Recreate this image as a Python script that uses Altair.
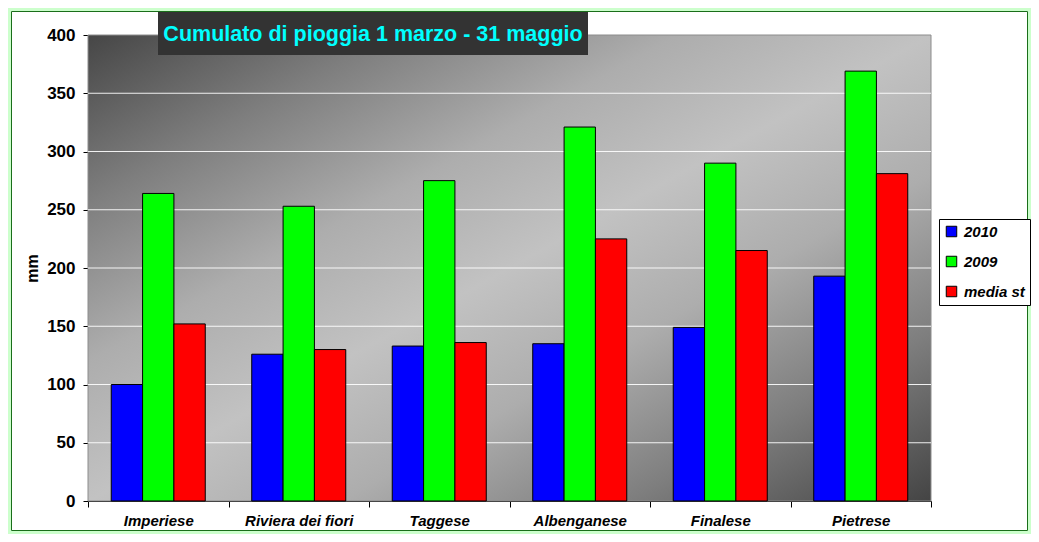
import altair as alt
import pandas as pd

categories = ["Imperiese", "Riviera dei fiori", "Taggese", "Albenganese", "Finalese", "Pietrese"]
series = ["2010", "2009", "media st"]
v2010 = [100, 126, 133, 135, 149, 193]
v2009 = [264, 253, 275, 321, 290, 369]
vmedia = [152, 130, 136, 225, 215, 281]
colors = ["#0000ff", "#00ff00", "#ff0000"]
y_ticks = [0, 50, 100, 150, 200, 250, 300, 350, 400]
grid_vals = [50, 100, 150, 200, 250, 300, 350]
title_text = "Cumulato di pioggia 1 marzo - 31 maggio"

W, H = 843, 466
PL, PT, PR, PB = 80, 27, 100, 33
FONT = "Liberation Sans"

rows = []
for i, c in enumerate(categories):
    for s, vals in zip(series, [v2010, v2009, vmedia]):
        rows.append({"cat": c, "series": s, "mm": vals[i]})
df = pd.DataFrame(rows)
one = alt.Data(values=[{}])

bg = alt.Chart(one).mark_rect(
    color=alt.Gradient(
        gradient="linear", x1=0, y1=0, x2=1, y2=1,
        stops=[
            alt.GradientStop(offset=0, color="#464646"),
            alt.GradientStop(offset=0.18, color="#7e7e7e"),
            alt.GradientStop(offset=0.35, color="#adadad"),
            alt.GradientStop(offset=0.5, color="#c2c2c2"),
            alt.GradientStop(offset=0.65, color="#adadad"),
            alt.GradientStop(offset=0.82, color="#7e7e7e"),
            alt.GradientStop(offset=1, color="#444444"),
        ],
    ),
    stroke="#8c8c8c", strokeWidth=1,
).encode(x=alt.value(0), x2=alt.value(W), y=alt.value(0), y2=alt.value(H))

grid = alt.Chart(pd.DataFrame({"g": grid_vals})).mark_rule(
    color="#ffffff", strokeWidth=1.2, opacity=0.9
).encode(y=alt.Y("g:Q", scale=alt.Scale(domain=[0, 400])))

bars = alt.Chart(df).mark_bar(stroke="#000000", strokeWidth=1, opacity=1).encode(
    x=alt.X(
        "cat:N", sort=categories, title=None,
        scale=alt.Scale(paddingInner=0, paddingOuter=0),
        axis=alt.Axis(
            tickBand="extent", labelAngle=0, labelFont=FONT, labelFontSize=15,
            labelFontWeight="bold", labelFontStyle="italic", labelColor="#000000",
            domainColor="#000000", tickColor="#000000", tickSize=6, labelPadding=6,
        ),
    ),
    xOffset=alt.XOffset(
        "series:N", sort=series,
        scale=alt.Scale(paddingOuter=0.742, paddingInner=0),
    ),
    y=alt.Y(
        "mm:Q", title="mm",
        scale=alt.Scale(domain=[0, 400], nice=False),
        axis=alt.Axis(
            values=y_ticks, grid=False, labelFont=FONT, labelFontSize=17,
            labelFontWeight="bold", labelColor="#000000", domainColor="#000000",
            tickColor="#000000", tickSize=5, labelPadding=8,
            titleFont=FONT, titleFontSize=16, titleFontWeight="bold",
            titleColor="#000000", titlePadding=6,
        ),
    ),
    color=alt.Color(
        "series:N", sort=series,
        scale=alt.Scale(domain=series, range=colors),
        legend=alt.Legend(
            title=None, orient="none", legendX=851, legendY=184,
            fillColor="#ffffff", strokeColor="#000000", padding=5,
            symbolType="square", symbolSize=110, symbolStrokeColor="#000000",
            symbolStrokeWidth=1, labelFont=FONT, labelFontSize=15,
            labelFontWeight="bold", labelFontStyle="italic", labelColor="#000000",
            rowPadding=14, labelOffset=5,
        ),
    ),
)

title_box = alt.Chart(one).mark_rect(color="#333333").encode(
    x=alt.value(70), x2=alt.value(500), y=alt.value(-23), y2=alt.value(20)
)
title_txt = alt.Chart(one).mark_text(
    text=title_text, color="#00ffff", font=FONT, fontSize=21.5, fontWeight="bold",
    align="center", baseline="alphabetic",
).encode(x=alt.value(285), y=alt.value(6))

frame_outer = alt.Chart(one).mark_rect(
    fillOpacity=0, stroke="#ccffcc", strokeWidth=6
).encode(x=alt.value(-PL), x2=alt.value(W + PR), y=alt.value(-PT), y2=alt.value(H + PB))
frame_inner = alt.Chart(one).mark_rect(
    fillOpacity=0, stroke="#1a6e1a", strokeWidth=1
).encode(x=alt.value(-PL + 3.5), x2=alt.value(W + PR - 3.5),
         y=alt.value(-PT + 3.5), y2=alt.value(H + PB - 3.5))

chart = alt.layer(bg, grid, bars, title_box, title_txt, frame_outer, frame_inner).properties(
    width=W, height=H,
    autosize=alt.AutoSizeParams(type="none"),
    padding={"left": PL, "top": PT, "right": PR, "bottom": PB},
    background="#ffffff",
).configure_view(stroke=None)

chart.save("out.html", embed_options={"renderer": "svg", "actions": False})
